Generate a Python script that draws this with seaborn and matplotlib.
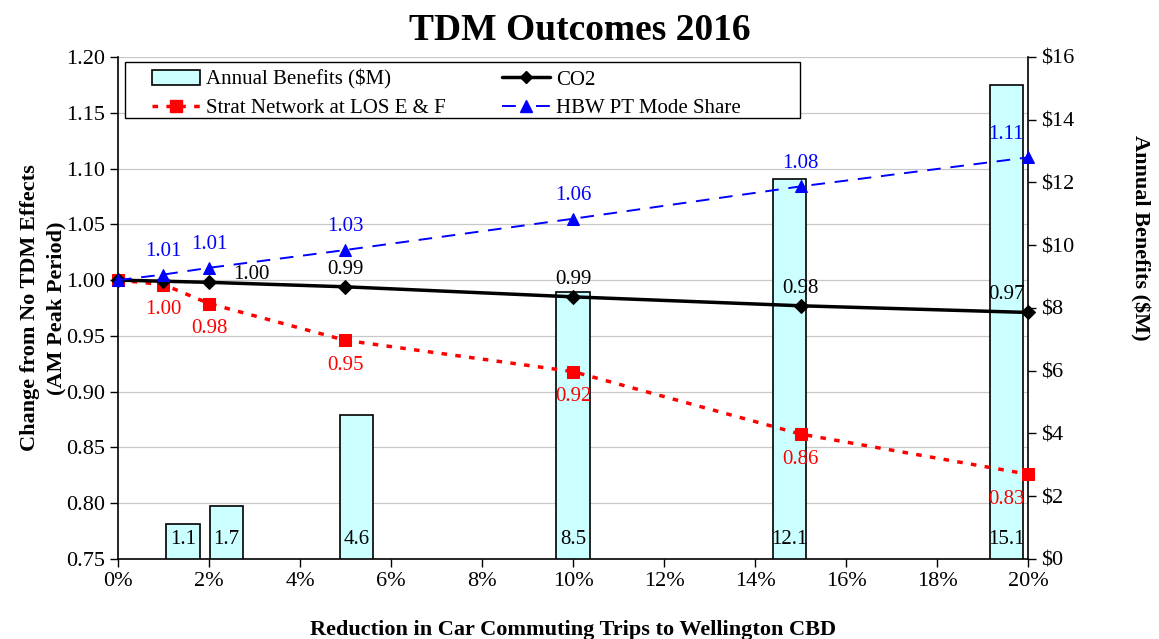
import numpy as np
import pandas as pd
import seaborn as sns
import matplotlib.pyplot as plt
from matplotlib.lines import Line2D
from matplotlib.patches import Patch, Rectangle
from matplotlib.ticker import FuncFormatter, MultipleLocator

# data
reduction = [0, 1, 2, 5, 10, 15, 20]          # % reduction in car commuting trips
co2 = [1.000, 0.999, 0.998, 0.994, 0.985, 0.977, 0.971]
strat_net = [1.000, 0.996, 0.979, 0.946, 0.918, 0.862, 0.826]
hbw_pt = [1.000, 1.005, 1.011, 1.027, 1.055, 1.084, 1.110]

bar_steps = [1, 2, 5, 10, 15, 20]
benefits = [1.1, 1.7, 4.6, 8.5, 12.1, 15.1]      # $M

co2_labels = ["", "", "1.00", "0.99", "0.99", "0.98", "0.97"]
strat_labels = ["", "1.00", "0.98", "0.95", "0.92", "0.86", "0.83"]
hbw_labels = ["", "1.01", "1.01", "1.03", "1.06", "1.08", "1.11"]

df = pd.DataFrame({"x": reduction, "co2": co2, "strat": strat_net, "hbw": hbw_pt})

sns.set_style("white")
plt.rcParams["font.family"] = ["Liberation Serif", "DejaVu Serif"]
plt.rcParams["text.color"] = "black"
plt.rcParams["axes.labelcolor"] = "black"
plt.rcParams["xtick.color"] = "black"
plt.rcParams["ytick.color"] = "black"

fig = plt.figure(figsize=(11.59, 6.39), dpi=100)
ax = fig.add_axes([0.1018, 0.1252, 0.7852, 0.7856])
axb = ax.twinx()
axl = ax.twinx()
ax.set_zorder(0)
axb.set_zorder(1)
axl.set_zorder(2)
axb.patch.set_visible(False)
axl.patch.set_visible(False)

# primary axis: grid + ticks
ax.set_xlim(0, 20)
ax.set_ylim(0.75, 1.20)
ax.yaxis.set_major_locator(MultipleLocator(0.05))
ax.xaxis.set_major_locator(MultipleLocator(2))
ax.yaxis.set_major_formatter(FuncFormatter(lambda v, p: f"{v:.2f}"))
ax.xaxis.set_major_formatter(FuncFormatter(lambda v, p: f"{v:.0f}%"))
ax.grid(axis="y", color="#c8c8c8", lw=0.9)
ax.tick_params(axis="both", direction="out", length=6, width=1, labelsize=16,
               left=True, bottom=True, colors="black")
for s in ["top", "right"]:
    ax.spines[s].set_visible(False)
for s in ["left", "bottom"]:
    ax.spines[s].set_color("black")
    ax.spines[s].set_linewidth(1.2)
ax.set_xlabel("Reduction in Car Commuting Trips to Wellington CBD",
              fontsize=16, fontweight="bold", labelpad=21)
ax.set_ylabel("Change from No TDM Effects\n(AM Peak Period)",
              fontsize=16, fontweight="bold", linespacing=1.4)
ax.yaxis.set_label_coords(-0.057, 0.5)

# bars on a category-style secondary axis (21 bins spanning 0-20%)
bar_pos = [(s + 0.5) * 20 / 21 for s in bar_steps]
axb.bar(bar_pos, benefits, width=0.73, color="#ccffff", edgecolor="black", lw=1.2)
axb.set_ylim(0, 16)
axb.yaxis.set_major_locator(MultipleLocator(2))
axb.yaxis.set_major_formatter(FuncFormatter(lambda v, p: f"${v:.0f}"))
axb.tick_params(axis="y", direction="out", length=6, width=1, labelsize=16, right=True)
for s in ["top", "left", "bottom"]:
    axb.spines[s].set_visible(False)
axb.spines["right"].set_color("black")
axb.spines["right"].set_linewidth(1.2)
axb.set_ylabel("Annual Benefits ($M)", fontsize=16, fontweight="bold", rotation=-90)
axb.yaxis.set_label_coords(1.133, 0.64)
for xp, b in zip(bar_pos, benefits):
    axb.annotate(f"{b:.1f}", (xp, 0), xytext=(0, 19), textcoords="offset pixels",
                 ha="center", va="center", fontsize=15)

# lines
axl.set_ylim(0.75, 1.20)
axl.set_xlim(0, 20)
axl.axis("off")
sns.lineplot(data=df, x="x", y="strat", ax=axl, color="#ff0000", lw=2.5,
             linestyle=(0, (1.6, 2.4)), marker="s", markersize=8, markeredgecolor="#ff0000",
             clip_on=False)
sns.lineplot(data=df, x="x", y="co2", ax=axl, color="black", lw=2.5,
             marker="D", markersize=7, markeredgecolor="black", clip_on=False)
sns.lineplot(data=df, x="x", y="hbw", ax=axl, color="#0000ff", lw=1.4,
             linestyle=(0, (7, 5)), marker="^", markersize=9, markeredgecolor="#0000ff",
             clip_on=False)
axl.set_xlim(0, 20)
axl.set_ylim(0.75, 1.20)


def put_labels(vals, labels, color, dy):
    for xv, yv, t in zip(reduction, vals, labels):
        if not t:
            continue
        dx = -22 if xv == 20 else 0
        axl.annotate(t, (xv, yv), xytext=(dx, dy), textcoords="offset pixels",
                     ha="center", va="center", fontsize=15, color=color)


put_labels(strat_net, strat_labels, "#ff0000", -25)
put_labels(hbw_pt, hbw_labels, "#0000ff", 23)
for xv, yv, t in zip(reduction, co2, co2_labels):
    if not t:
        continue
    if xv == 2:
        off = (42, 8)
    elif xv == 20:
        off = (-22, 18)
    else:
        off = (0, 17)
    axl.annotate(t, (xv, yv), xytext=off, textcoords="offset pixels",
                 ha="center", va="center", fontsize=15, color="black")

# legend (Excel-style box with wide left/right padding)
handles = [
    Patch(facecolor="#ccffff", edgecolor="black", lw=1.2),
    Line2D([], [], color="#ff0000", lw=2.5, linestyle=(0, (1.6, 2.4)), marker="s",
           markersize=8),
    Line2D([], [], color="black", lw=2.5, marker="D", markersize=6),
    Line2D([], [], color="#0000ff", lw=1.4, linestyle=(0, (7.1, 10.4)), marker="^",
           markersize=8),
]
names = ["Annual Benefits ($M)", "Strat Network at LOS E & F", "CO2", "HBW PT Mode Share"]
legend_box = Rectangle((0.0077, 0.8785), 0.7418, 0.1116, transform=axl.transAxes,
                       facecolor="white", edgecolor="black", lw=1.0, zorder=4)
axl.add_patch(legend_box)
leg = axl.legend(handles, names, loc="upper left", ncol=2,
                 bbox_to_anchor=(0.0374, 0.975), borderaxespad=0, borderpad=0,
                 fontsize=15, frameon=False, labelspacing=0.42, handlelength=2.3,
                 handletextpad=0.3, columnspacing=2.7)
leg.set_zorder(5)

fig.suptitle("TDM Outcomes 2016", fontsize=27, fontweight="bold", y=0.979)
fig.savefig("out.png", dpi=100)
